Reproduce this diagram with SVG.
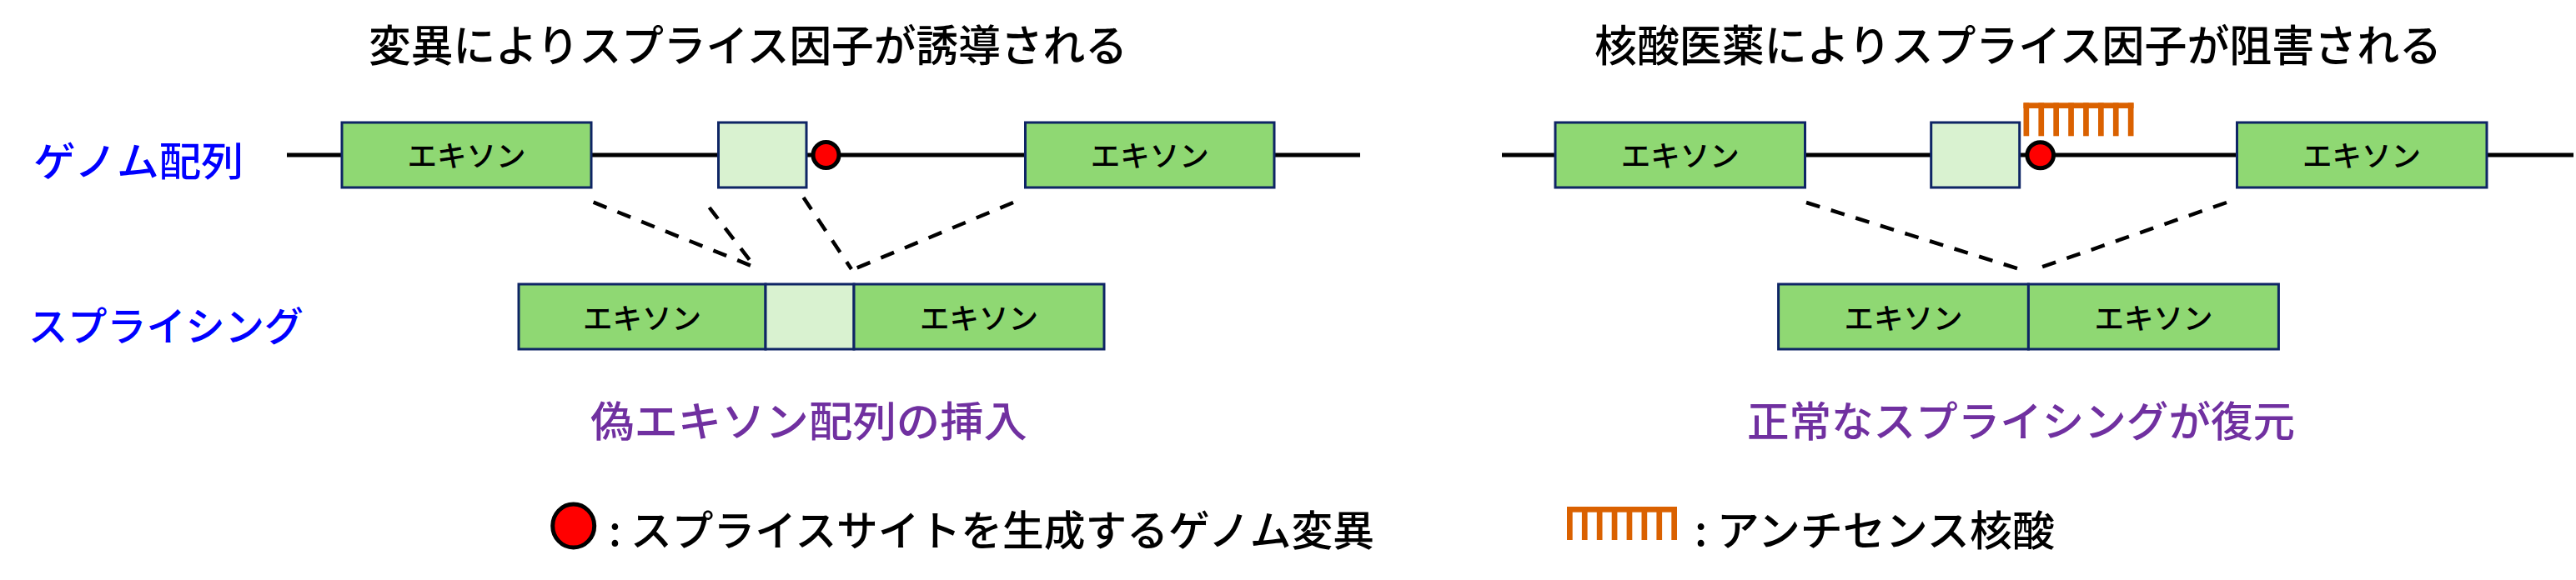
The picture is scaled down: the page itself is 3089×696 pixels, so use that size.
<svg xmlns="http://www.w3.org/2000/svg" xmlns:xlink="http://www.w3.org/1999/xlink" width="3089" height="696" viewBox="0 0 3089 696">
<style>
.t{font-family:"Noto Sans CJK JP","Noto Sans CJK SC",sans-serif;font-weight:500;}
.title{font-size:52px;fill:#000;}
.lbl{font-size:48px;fill:#0000FF;}
.res{font-size:50px;fill:#7030A0;}
.leg{font-size:50px;fill:#000;}
.ex{font-size:35px;fill:#000;}
.exon{fill:#8FD873;stroke:#0E2565;stroke-width:3;}
.pseudo{fill:#D9F2D0;stroke:#0E2565;stroke-width:3;}
.bb{stroke:#000;stroke-width:5;fill:none;}
.dash{stroke:#000;stroke-width:4.5;stroke-dasharray:17 14;fill:none;}
.mut{fill:#FF0000;stroke:#000;stroke-width:5;}
.aso{fill:#DA6100;}
</style>
<defs>
<g id="comb">
<rect x="0" y="0" width="132" height="6.7"/>
<rect x="0" y="0" width="6.7" height="40"/>
<rect x="17.9" y="0" width="6.7" height="40"/>
<rect x="35.8" y="0" width="6.7" height="40"/>
<rect x="53.7" y="0" width="6.7" height="40"/>
<rect x="71.6" y="0" width="6.7" height="40"/>
<rect x="89.5" y="0" width="6.7" height="40"/>
<rect x="107.4" y="0" width="6.7" height="40"/>
<rect x="125.3" y="0" width="6.7" height="40"/>
</g>
</defs>
<rect width="3089" height="696" fill="#fff"/>

<g id="titles">
<text class="t title" x="897" y="74" text-anchor="middle" textLength="910" lengthAdjust="spacingAndGlyphs">変異によりスプライス因子が誘導される</text>
<text class="t title" x="2420" y="74" text-anchor="middle" textLength="1016" lengthAdjust="spacingAndGlyphs">核酸医薬によりスプライス因子が阻害される</text>
</g>

<g id="row-labels">
<text class="t lbl" x="166" y="211" text-anchor="middle" textLength="252" lengthAdjust="spacingAndGlyphs">ゲノム配列</text>
<text class="t lbl" x="199" y="409" text-anchor="middle" textLength="330" lengthAdjust="spacingAndGlyphs">スプライシング</text>
</g>

<g id="backbone">
<line class="bb" x1="344" y1="186" x2="1631" y2="186"/>
<line class="bb" x1="1801" y1="186" x2="3086" y2="186"/>
</g>

<g id="connectors">
<line class="dash" x1="711.6" y1="242.7" x2="906" y2="321"/>
<line class="dash" x1="850.6" y1="249" x2="905" y2="320"/>
<line class="dash" x1="963.5" y1="237" x2="1021" y2="323"/>
<line class="dash" x1="1215" y1="243" x2="1024" y2="323"/>
<line class="dash" x1="2166" y1="243" x2="2421" y2="322.7"/>
<line class="dash" x1="2670" y1="243" x2="2442" y2="322.7"/>
</g>

<g id="left-genome-exon1">
<rect class="exon" x="410" y="147" width="299" height="78"/>
<text class="t ex" x="559.5" y="200" text-anchor="middle" textLength="142" lengthAdjust="spacingAndGlyphs">エキソン</text>
</g>
<g id="left-genome-pseudoexon">
<rect class="pseudo" x="861.5" y="147" width="105.5" height="78"/>
</g>
<g id="left-mutation">
<ellipse class="mut" cx="990.5" cy="186" rx="15.5" ry="15.5"/>
</g>
<g id="left-genome-exon2">
<rect class="exon" x="1229.5" y="147" width="298.5" height="78"/>
<text class="t ex" x="1378.7" y="200" text-anchor="middle" textLength="142" lengthAdjust="spacingAndGlyphs">エキソン</text>
</g>

<g id="left-spliced-exon1">
<rect class="exon" x="622" y="341" width="296" height="78"/>
<text class="t ex" x="770" y="395" text-anchor="middle" textLength="142" lengthAdjust="spacingAndGlyphs">エキソン</text>
</g>
<g id="left-spliced-pseudoexon">
<rect class="pseudo" x="918" y="341" width="106" height="78"/>
</g>
<g id="left-spliced-exon2">
<rect class="exon" x="1024" y="341" width="300" height="78"/>
<text class="t ex" x="1174" y="395" text-anchor="middle" textLength="142" lengthAdjust="spacingAndGlyphs">エキソン</text>
</g>
<g id="left-result">
<text class="t res" x="970" y="524" text-anchor="middle" textLength="524" lengthAdjust="spacingAndGlyphs">偽エキソン配列の挿入</text>
</g>

<g id="right-genome-exon1">
<rect class="exon" x="1865" y="147" width="299.5" height="78"/>
<text class="t ex" x="2014.7" y="200" text-anchor="middle" textLength="142" lengthAdjust="spacingAndGlyphs">エキソン</text>
</g>
<g id="right-genome-pseudoexon">
<rect class="pseudo" x="2315.7" y="147" width="106" height="78"/>
</g>
<g id="right-mutation">
<ellipse class="mut" cx="2446.7" cy="186.3" rx="15.8" ry="15.5"/>
</g>
<g id="right-antisense">
<use xlink:href="#comb" class="aso" x="2426.5" y="123.3"/>
</g>
<g id="right-genome-exon2">
<rect class="exon" x="2682.5" y="147" width="299.5" height="78"/>
<text class="t ex" x="2832" y="200" text-anchor="middle" textLength="142" lengthAdjust="spacingAndGlyphs">エキソン</text>
</g>

<g id="right-spliced-exon1">
<rect class="exon" x="2132.6" y="341" width="299.8" height="78"/>
<text class="t ex" x="2282.5" y="395" text-anchor="middle" textLength="142" lengthAdjust="spacingAndGlyphs">エキソン</text>
</g>
<g id="right-spliced-exon2">
<rect class="exon" x="2432.4" y="341" width="300" height="78"/>
<text class="t ex" x="2582.4" y="395" text-anchor="middle" textLength="142" lengthAdjust="spacingAndGlyphs">エキソン</text>
</g>
<g id="right-result">
<text class="t res" x="2423.5" y="524" text-anchor="middle" textLength="657" lengthAdjust="spacingAndGlyphs">正常なスプライシングが復元</text>
</g>

<g id="legend-mutation">
<ellipse class="mut" cx="687.7" cy="631" rx="25" ry="26" stroke-width="6"/>
<text class="t leg" x="730" y="655" textLength="918" lengthAdjust="spacingAndGlyphs">: スプライスサイトを生成するゲノム変異</text>
</g>
<g id="legend-antisense">
<use xlink:href="#comb" class="aso" x="1879" y="608"/>
<text class="t leg" x="2032" y="655" textLength="432" lengthAdjust="spacingAndGlyphs">: アンチセンス核酸</text>
</g>
</svg>
